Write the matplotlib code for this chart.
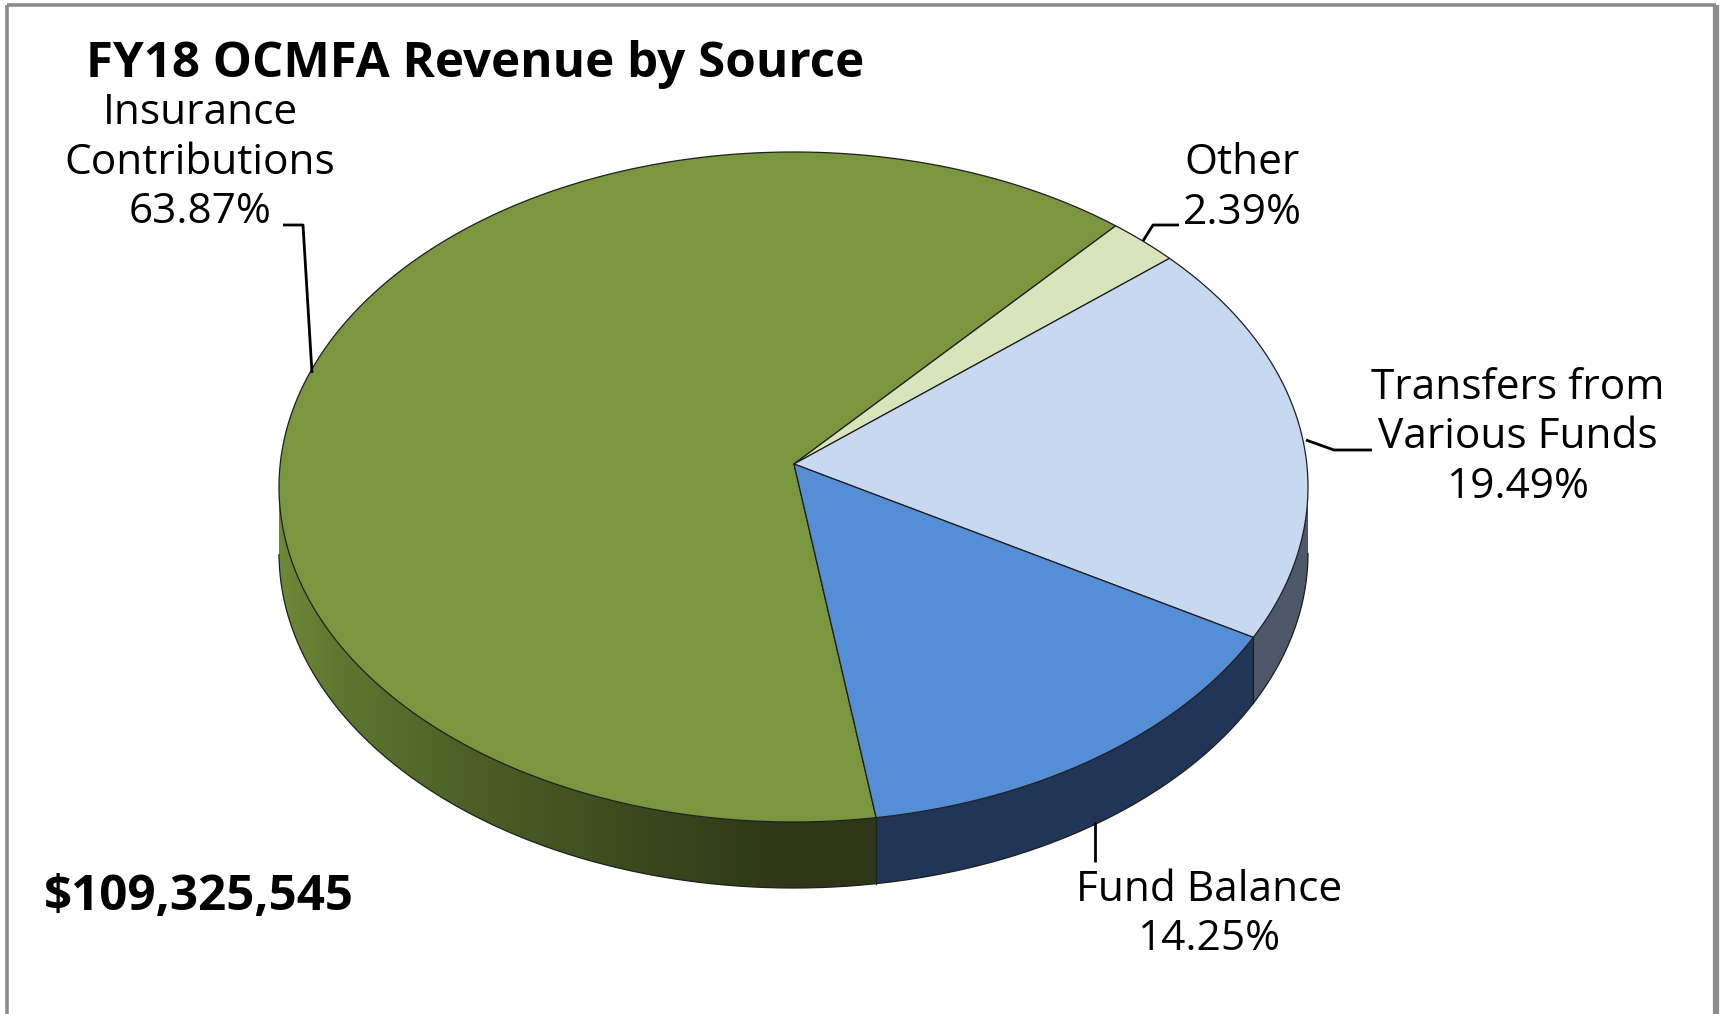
import numpy as np
import matplotlib
matplotlib.use("Agg")
import matplotlib.pyplot as plt
from matplotlib.patches import Polygon
from matplotlib.colors import LinearSegmentedColormap

# ---------------- data ----------------
categories = ["Insurance\nContributions", "Other", "Transfers from\nVarious Funds", "Fund Balance"]
shares = [63.87, 2.39, 19.49, 14.25]
pct_labels = ["63.87%", "2.39%", "19.49%", "14.25%"]
top_colors = ["#7A963F", "#D8E4BC", "#C6D9F1", "#558ED5"]
side_colors = [None, "#8a9470", "#4D5868", "#213556"]
title = "FY18 OCMFA Revenue by Source"
total_label = "$109,325,545"

FONT = "Open Sans"

# ---------------- canvas ----------------
W, H = 1723, 1014
fig = plt.figure(figsize=(W / 100, H / 100), dpi=100)
ax = fig.add_axes([0, 0, 1, 1])
ax.set_xlim(0, W)
ax.set_ylim(H, 0)
ax.axis("off")

# frame
frame_col = "#8c8c8c"
ax.plot([7, 7], [5, H], color=frame_col, lw=2.6, solid_capstyle="butt")
ax.plot([7, 1716], [5, 5], color=frame_col, lw=2.6, solid_capstyle="butt")
ax.plot([1716, 1716], [5, H], color=frame_col, lw=4.5, solid_capstyle="butt")

# ---------------- 3D pie geometry ----------------
cx, cy = 793.5, 487.0      # ellipse centre
A, B = 514.5, 335.0        # semi axes
apex = (794.0, 464.0)      # projected pie centre
depth = 66
start = -81.4              # degrees, slices run clockwise

u0 = (apex[0] - cx) / A
v0 = (cy - apex[1]) / B


def rim(phi_deg):
    phi = np.radians(np.asarray(phi_deg, dtype=float))
    dx, dy = np.cos(phi), np.sin(phi)
    pd = u0 * dx + v0 * dy
    t = -pd + np.sqrt(pd ** 2 - (u0 ** 2 + v0 ** 2 - 1))
    u = u0 + t * dx
    v = v0 + t * dy
    return cx + A * u, cy - B * v, u, v


cum = np.concatenate([[0], np.cumsum(shares)]) / np.sum(shares)
edges = start - 360 * cum

edge_col = "#1e1e1e"

# horizontal shading of the green side wall
g_stops = [0.0, 0.10, 0.33, 0.62, 0.85, 1.0]
g_cols = ["#6e8a38", "#5e772f", "#4b5f25", "#3a481d", "#2e3717", "#2e3717"]
green_cmap = LinearSegmentedColormap.from_list("gside", list(zip(g_stops, g_cols)))

# sides
for i in range(len(shares)):
    phis = np.linspace(edges[i], edges[i + 1], 800)
    x, y, u, v = rim(phis)
    m = v <= 0
    if m.sum() < 2:
        continue
    xs, ys = x[m], y[m]
    poly = list(zip(xs, ys)) + list(zip(xs[::-1], ys[::-1] + depth))
    if side_colors[i] is None:
        patch = Polygon(poly, closed=True, facecolor="none", edgecolor="none", zorder=2)
        ax.add_patch(patch)
        x0, x1 = xs.min() - 2, xs.max() + 2
        y0, y1 = ys.min() - 2, ys.max() + depth + 2
        grad = np.linspace(0, 1, 512)[None, :]
        im = ax.imshow(grad, cmap=green_cmap, aspect="auto",
                       extent=[x0, x1, y1, y0], zorder=2, interpolation="bilinear")
        im.set_clip_path(patch)
    else:
        ax.add_patch(Polygon(poly, closed=True, facecolor=side_colors[i],
                             edgecolor="none", zorder=2))
    ax.plot(xs, ys + depth, color=edge_col, lw=0.9, zorder=3)

ax.set_xlim(0, W)
ax.set_ylim(H, 0)

# vertical side edges at boundaries visible on the front
for e in edges[1:-1].tolist() + [edges[0]]:
    x, y, u, v = rim([e])
    if v[0] < 0:
        ax.plot([x[0], x[0]], [y[0], y[0] + depth], color=edge_col, lw=0.9, zorder=3)

# top faces
for i in range(len(shares)):
    phis = np.linspace(edges[i], edges[i + 1], 600)
    x, y, u, v = rim(phis)
    poly = [apex] + list(zip(x, y))
    ax.add_patch(Polygon(poly, closed=True, facecolor=top_colors[i],
                         edgecolor=edge_col, lw=0.9, joinstyle="round", zorder=4))

# ---------------- labels ----------------
txt_col = "#000000"
fs = 30.5
pitch = 49.5


def draw_lines(lines, xc, y0, **kw):
    for j, line in enumerate(lines):
        ax.text(xc, y0 + j * pitch, line, ha="center", va="baseline",
                fontsize=fs, family=FONT, color=txt_col, zorder=6, **kw)


label_pos = [(200, 124), (1242, 174), (1518, 399), (1209, 901)]
for i in range(len(shares)):
    lines = categories[i].split("\n") + [pct_labels[i]]
    draw_lines(lines, label_pos[i][0], label_pos[i][1])

# leader lines
lw_leader = 2.0
leaders = [
    [(283, 225), (303, 225), (312, 373)],
    [(1143, 241), (1153, 225), (1179, 225)],
    [(1306, 440), (1334, 450), (1372, 450)],
    [(1095, 822), (1095, 862)],
]
for pts in leaders:
    xs, ys = zip(*pts)
    ax.plot(xs, ys, color="black", lw=lw_leader, zorder=5, solid_capstyle="butt")

ax.text(86, 77, title, ha="left", va="baseline", fontsize=35.5, fontweight="bold",
        family=FONT, color=txt_col)
ax.text(44, 910, total_label, ha="left", va="baseline", fontsize=35.5, fontweight="bold",
        family=FONT, color=txt_col)

fig.savefig("out.png", dpi=100, facecolor="white")
